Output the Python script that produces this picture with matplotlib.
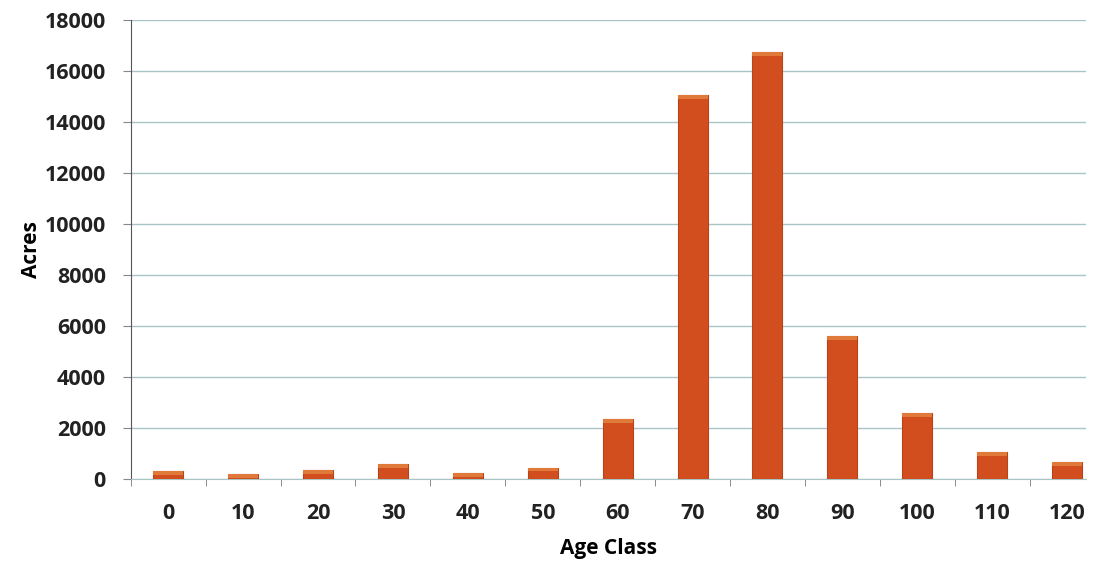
import numpy as np
import matplotlib.pyplot as plt

# acres by stand age class
age_class = ['0', '10', '20', '30', '40', '50', '60', '70', '80', '90', '100', '110', '120']
acres = [300, 200, 350, 600, 240, 450, 2350, 15050, 16750, 5600, 2580, 1060, 680]

plt.rcParams['font.family'] = ['Open Sans', 'DejaVu Sans']

fig = plt.figure(figsize=(10.99, 5.65), dpi=100)
ax = fig.add_axes([0.119, 0.152, 0.869, 0.8125])

x = np.arange(len(age_class))
ax.bar(x, acres, width=0.4, color='#D24E1E', edgecolor='#B8431A', linewidth=0.8, zorder=3)
# lighter cap on each bar
cap = 150
ax.bar(x, [cap] * len(acres), bottom=[a - cap for a in acres], width=0.4,
       color='#E07A3A', linewidth=0, zorder=4)

ax.set_xlim(-0.5, len(age_class) - 0.75)
ax.set_ylim(0, 18000)
ax.set_yticks(np.arange(0, 18001, 2000))
ax.set_xticks(x)
ax.set_xticklabels(age_class)
ax.set_xticks(np.arange(-0.5, len(age_class) - 1, 1), minor=True)

ax.grid(axis='y', color='#A9C4C4', linewidth=1.0, zorder=0)
for s in ['top', 'right']:
    ax.spines[s].set_visible(False)
ax.spines['left'].set_color('#555555')
ax.spines['bottom'].set_color('#A9C4C4')
ax.tick_params(axis='x', which='major', length=0, pad=17, labelsize=15.5, colors='#222222')
ax.tick_params(axis='x', which='minor', length=5, color='#777777')
ax.tick_params(axis='y', length=6, color='#888888', labelsize=15.5, colors='#222222', pad=12)
for lbl in ax.get_xticklabels() + ax.get_yticklabels():
    lbl.set_fontweight('bold')

ax.set_xlabel('Age Class', fontsize=15, fontweight='bold', labelpad=10)
ax.set_ylabel('Acres', fontsize=15, fontweight='bold', labelpad=2)

fig.savefig('out.png', dpi=100)
